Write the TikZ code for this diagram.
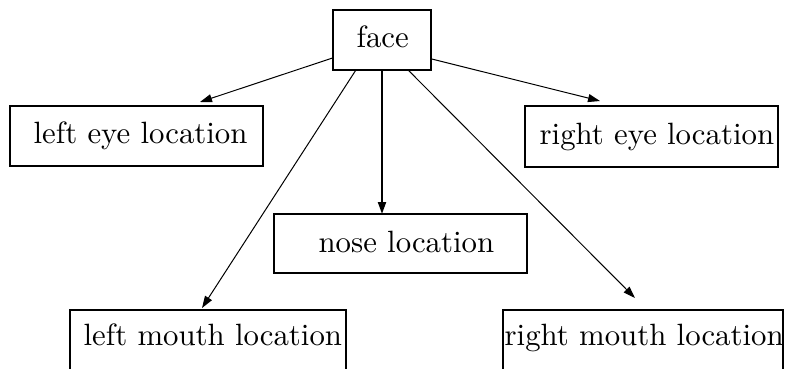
\documentclass[tikz,border=0pt]{standalone}
\usepackage{fontspec}
\usetikzlibrary{arrows.meta}
\begin{document}
\begin{tikzpicture}[x=1pt,y=-1pt,
  box/.style={draw, line width=2.4pt, inner sep=0pt, outer sep=0pt},
  lbl/.style={anchor=base west, inner sep=0pt, scale=3.08, font=\fontsize{10}{12}\selectfont},
  arr/.style={line width=1pt, -{Triangle[length=12pt,width=8pt]}},
  arrb/.style={line width=2pt, -{Triangle[length=12pt,width=8pt]}}]
\useasboundingbox (0,0) rectangle (788,368);
% boxes
\node[box, minimum width=98, minimum height=60] (face) at (382,40) {};
\node[box, minimum width=253, minimum height=60] (leye) at (136.5,136) {};
\node[box, minimum width=253, minimum height=61] (reye) at (651.5,136.5) {};
\node[box, minimum width=253, minimum height=59] (nose) at (400.5,243.5) {};
\node[box, minimum width=276, minimum height=70] (lmouth) at (208,345) {};
\node[box, minimum width=280, minimum height=70] (rmouth) at (643,345) {};
% texts
\node[lbl] (tface) at (356,47) {face};
\node[lbl] (tleye) at (33,143) {left eye location};
\node[lbl] (treye) at (539,144) {right eye location};
\node[lbl] (tnose) at (318,252) {nose location};
\node[lbl] (tlmouth) at (83,345) {left mouth location};
\node[lbl] (trmouth) at (504,345) {right mouth location};
% arrow ends
\coordinate (leyetip) at (200,102);
\coordinate (reyetip) at (600,101);
\coordinate (lmouthtip) at (202,308);
\coordinate (rmouthtip) at (635,298);
% connectors
\draw[arr] (face.200.6) -- (leyetip);
\draw[arr] (face.339.8) -- (reyetip);
\draw[arr] (face.229) -- (lmouthtip);
\draw[arr] (face.311) -- (rmouthtip);
\draw[arrb] (face.south) -- (face.south |- nose.north);
\end{tikzpicture}
\end{document}
